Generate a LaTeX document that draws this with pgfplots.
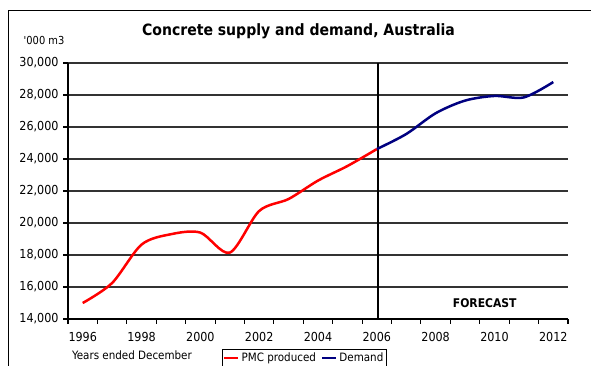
\documentclass[border=0pt]{standalone}
\usepackage{fontspec}
\setmainfont{DejaVu Sans Condensed}
\usepackage{pgfplots}
\usepackage{pgfplotstable}
\pgfplotsset{compat=1.18}

\definecolor{pmcred}{RGB}{255,0,0}
\definecolor{demandblue}{RGB}{0,0,128}

% Pre-mixed concrete produced (actual), '000 m3
\pgfplotstableread{
x pmc
0 15000
1 16250
2 18650
3 19300
4 19400
5 18150
6 20750
7 21500
8 22650
9 23560
10 24620
}\pmctable

% Forecast demand, '000 m3
\pgfplotstableread{
x demand
10 24620
11 25560
12 26860
13 27650
14 27940
15 27850
16 28810
}\demandtable

\begin{document}
\begin{tikzpicture}
\useasboundingbox (0pt,0pt) rectangle (591pt,366pt);
% outer chart frame
\draw[line width=1.2pt] (8.3pt,-10pt) -- (8.3pt,355.7pt) -- (610pt,355.7pt);
\node[font=\bfseries\fontsize{15.6}{18}\selectfont] at (298.5pt,334.5pt) {Concrete supply and demand, Australia};
\node[anchor=west, font=\fontsize{11}{13}\selectfont] at (20.2pt,325pt) {\textquotesingle000 m3};
\node[anchor=west, font=\fontsize{11.5}{13}\selectfont] at (68.5pt,11pt) {Years ended December};
\begin{axis}[
  at={(68pt,47pt)}, anchor=south west,
  width=500pt, height=256pt, scale only axis,
  xmin=-0.5, xmax=16.5, ymin=14000, ymax=30000,
  axis x line*=bottom, axis y line*=left,
  axis line style={line width=1.3pt, -},
  tick align=outside,
  major tick length=5pt,
  tick style={line width=1.1pt, black},
  ytick={14000,16000,...,30000},
  scaled y ticks=false,
  ymajorgrids, grid style={line width=1.2pt, black!80},
  xtick={-0.5,0.5,...,16.5}, xticklabels={},
  extra x ticks={0,2,...,16},
  extra x tick labels={1996,1998,2000,2002,2004,2006,2008,2010,2012},
  extra x tick style={major tick length=0pt, xticklabel style={yshift=-10pt}},
  /pgf/number format/assume math mode=true,
  /pgf/number format/1000 sep={,},
  tick label style={font=\fontsize{12.4}{14}\selectfont},
  yticklabel style={xshift=-1pt},
  legend columns=2,
  legend style={at={(axis description cs:0.3074,-0.1184)}, anchor=north west,
    draw=black, line width=0.9pt, inner sep=1pt,
    font=\fontsize{11.5}{13}\selectfont,
    /tikz/every even column/.append style={column sep=3pt}},
  legend image code/.code={\draw[#1] (0pt,0pt) -- (14pt,0pt);},
  clip=false,
]
\draw[line width=2pt, black] (axis cs:10.03,14000) -- (axis cs:10.03,30000);
\addplot[pmcred, line width=2.5pt, smooth] table[x=x, y=pmc] {\pmctable};
\addlegendentry{PMC produced}
\addplot[demandblue, line width=2.5pt, smooth] table[x=x, y=demand] {\demandtable};
\addlegendentry{Demand}
\node[font=\bfseries\fontsize{12}{14}\selectfont] at (axis cs:13.67,15020) {FORECAST};
\end{axis}
\end{tikzpicture}
\end{document}
